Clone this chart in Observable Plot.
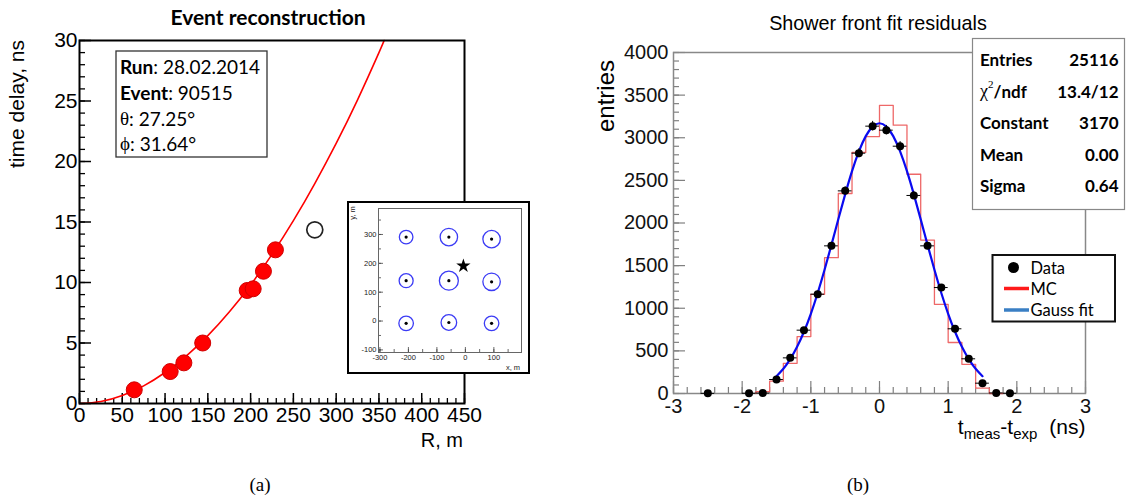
<!DOCTYPE html>
<html><head><meta charset="utf-8">
<script src="https://cdn.jsdelivr.net/npm/d3@7"></script>
<script src="https://cdn.jsdelivr.net/npm/@observablehq/plot@0.6"></script>
<style>
html,body{margin:0;padding:0;background:#fff;}
#stage{position:relative;width:1126px;height:499px;overflow:hidden;background:#fff;}
.pane{position:absolute;}
.pane svg{display:block;max-width:none;overflow:visible;}
</style></head><body><div id="stage"></div>
<script>
// ---------- (a) Event reconstruction ----------
const hitR = [64, 106, 122, 144, 196, 203, 215, 229];
const hitT = [1.13, 2.64, 3.36, 5.0, 9.34, 9.48, 10.93, 12.7];
const outlierR = [275];
const outlierT = [14.35];
// fitted front curve
const fitR = [0, 25, 50, 75, 100, 125, 150, 175, 200, 225, 250, 275, 300, 325, 350, 356];
const fitT = [0, 0.17, 0.67, 1.46, 2.56, 3.94, 5.61, 7.56, 9.8, 12.32, 15.11, 18.18, 21.5, 25.1, 29.0, 30];
const xTicksA = [0, 50, 100, 150, 200, 250, 300, 350, 400, 450];
const yTicksA = [0, 5, 10, 15, 20, 25, 30];

// inset: detector map
const detX = [-208, -58, 92, -208, -58, 92, -208, -58, 92];
const detY = [291, 291, 284, 140, 140, 136, -8, -5, -8];
const detSignal = [46, 76, 76, 49, 90, 76, 53, 61, 53];
const coreX = [-7];
const coreY = [191];
const xTicksB = [-300, -200, -100, 0, 100];
const yTicksB = [-100, 0, 100, 200, 300];

// ---------- (b) Shower front fit residuals ----------
const resX = [-2.5, -1.9, -1.7, -1.5, -1.3, -1.1, -0.9, -0.7, -0.5, -0.3, -0.1, 0.1, 0.3, 0.5, 0.7, 0.9, 1.1, 1.3, 1.5, 1.7, 1.9];
const resN = [2, 3, 5, 164, 418, 743, 1165, 1732, 2377, 2819, 3136, 3089, 2901, 2323, 1732, 1243, 759, 407, 121, 6, 3];
const mcX = [-1.7, -1.5, -1.3, -1.1, -0.9, -0.7, -0.5, -0.3, -0.1, 0.1, 0.3, 0.5, 0.7, 0.9, 1.1, 1.3, 1.5, 1.7];
const mcN = [22, 145, 354, 668, 1163, 1593, 2346, 2828, 3014, 3380, 3148, 2572, 1800, 1046, 598, 342, 62, 0];
const gaussX = [-1.5, -1.4, -1.3, -1.2, -1.1, -1.0, -0.9, -0.8, -0.7, -0.6, -0.5, -0.4, -0.3, -0.2, -0.1, 0, 0.1, 0.2, 0.3, 0.4, 0.5, 0.6, 0.7, 0.8, 0.9, 1.0, 1.1, 1.2, 1.3, 1.4, 1.5];
const gaussY = [203, 290, 403, 547, 724, 935, 1179, 1451, 1743, 2043, 2336, 2608, 2840, 3019, 3131, 3170, 3131, 3019, 2840, 2608, 2336, 2043, 1743, 1451, 1179, 935, 724, 547, 403, 290, 203];
const binHalf = 0.1;
const xTicksC = [-3, -2, -1, 0, 1, 2, 3];
const yTicksC = [0, 500, 1000, 1500, 2000, 2500, 3000, 3500, 4000];

const statLabels = ["Entries", "χ2/ndf", "Constant", "Mean", "Sigma"];
const statValues = ["25116", "13.4/12", "3170", "0.00", "0.64"];

// ---------- build tables ----------
const hits = hitR.map((r, i) => ({r, t: hitT[i]}));
const outl = outlierR.map((r, i) => ({r, t: outlierT[i]}));
const fit = fitR.map((r, i) => ({r, t: fitT[i]}));
const dets = detX.map((x, i) => ({x, y: detY[i], s: detSignal[i]}));
const core = coreX.map((x, i) => ({x, y: coreY[i]}));
const res = resX.map((x, i) => ({x, n: resN[i]}));
const mcOutline = [{x: mcX[0] - binHalf, n: 0}, ...mcX.map((c, i) => ({x: c - binHalf, n: mcN[i]})),
  {x: mcX[mcX.length - 1] + binHalf, n: 0}];
const gauss = gaussX.map((x, i) => ({x, y: gaussY[i]}));

const stage = document.getElementById("stage");
function pane(left, top, node, extra) {
  const d = document.createElement("div");
  d.className = "pane";
  d.style.left = left + "px"; d.style.top = top + "px";
  if (extra) Object.assign(d.style, extra);
  d.appendChild(node);
  stage.appendChild(d);
  return d;
}
const sans = "'Liberation Sans', Arial, sans-serif";

// ---------- Plot A ----------
const AW = 490, AH = 440, aL = 79, aR = 26, aT = 40, aB = 37;
const aFW = AW - aL - aR, aFH = AH - aT - aB;
const plotA = Plot.plot({
  width: AW, height: AH, marginLeft: aL, marginRight: aR, marginTop: aT, marginBottom: aB,
  x: {domain: [0, 450]}, y: {domain: [0, 30]},
  style: {fontFamily: sans, color: "#000", background: "transparent", overflow: "visible"},
  marks: [
    Plot.tickX(d3.range(0, 451, 10), {x: d => d, insetTop: aFH - 5, stroke: "#000", strokeWidth: 1.3}),
    Plot.tickX(xTicksA, {x: d => d, insetTop: aFH - 10, stroke: "#000", strokeWidth: 1.5}),
    Plot.tickY(d3.range(0, 31, 1), {y: d => d, insetRight: aFW - 6, stroke: "#000", strokeWidth: 1.3}),
    Plot.tickY(yTicksA, {y: d => d, insetRight: aFW - 12, stroke: "#000", strokeWidth: 1.5}),
    Plot.line(fit, {x: "r", y: "t", stroke: "#ff0000", strokeWidth: 1.6, curve: "natural"}),
    Plot.dot(hits, {x: "r", y: "t", r: 8, fill: "#ff0000", stroke: "#d00000", strokeWidth: 1}),
    Plot.dot(outl, {x: "r", y: "t", r: 8, fill: "none", stroke: "#222", strokeWidth: 1.7}),
    Plot.frame({stroke: "#000", strokeWidth: 2}),
    Plot.axisX(xTicksA, {tickSize: 0, tickPadding: 4, fontSize: 21, label: null, tickFormat: d => String(d)}),
    Plot.axisY(yTicksA, {tickSize: 0, tickPadding: 2, fontSize: 21, label: null, tickFormat: d => String(d)})
  ]
});
pane(0, 0, plotA);

// ---------- Plot B (inset) ----------
const BW = 179, BH = 169, bL = 29, bR = 7, bT = 5, bB = 20;
const bFW = BW - bL - bR, bFH = BH - bT - bB;
const plotB = Plot.plot({
  width: BW, height: BH, marginLeft: bL, marginRight: bR, marginTop: bT, marginBottom: bB,
  x: {domain: [-305, 197]}, y: {domain: [-109, 390]},
  r: {type: "sqrt", domain: [0, 100], range: [0, 10]},
  style: {fontFamily: sans, color: "#222", background: "#fff", overflow: "visible"},
  marks: [
    Plot.tickX(d3.range(-300, 197, 50), {x: d => d, insetTop: bFH - 3, stroke: "#444", strokeWidth: 0.8}),
    Plot.tickX(xTicksB, {x: d => d, insetTop: bFH - 5, stroke: "#444", strokeWidth: 0.8}),
    Plot.tickY(d3.range(-100, 390, 50), {y: d => d, insetRight: bFW - 3, stroke: "#444", strokeWidth: 0.8}),
    Plot.tickY(yTicksB, {y: d => d, insetRight: bFW - 5, stroke: "#444", strokeWidth: 0.8}),
    Plot.frame({stroke: "#666", strokeWidth: 1}),
    Plot.dot(dets, {x: "x", y: "y", r: "s", fill: "none", stroke: "#3b3bf5", strokeWidth: 1.3}),
    Plot.dot(dets, {x: "x", y: "y", r: 1.6, fill: "#000"}),
    Plot.dot(core, {x: "x", y: "y", symbol: "star", r: 4.5, fill: "#000"}),
    Plot.axisX(xTicksB, {tickSize: 0, tickPadding: 2, fontSize: 7.5, label: null, tickFormat: d => String(d)}),
    Plot.axisY(yTicksB, {tickSize: 0, tickPadding: 2, fontSize: 7.5, label: null, tickFormat: d => String(d)})
  ]
});
pane(347, 201, plotB, {border: "2px solid #000", background: "#fff"});

// ---------- Plot C ----------
const CW = 536, CH = 460, cL = 83, cR = 41, cT = 52, cB = 67;
const cFW = CW - cL - cR, cFH = CH - cT - cB;
const plotC = Plot.plot({
  width: CW, height: CH, marginLeft: cL, marginRight: cR, marginTop: cT, marginBottom: cB,
  x: {domain: [-3, 3]}, y: {domain: [0, 4000]},
  style: {fontFamily: sans, color: "#111", background: "transparent", overflow: "visible"},
  marks: [
    Plot.tickX(d3.range(-15, 16).map(k => k / 5), {x: d => d, insetTop: cFH - 6, stroke: "#808080", strokeWidth: 1.2}),
    Plot.tickX(xTicksC, {x: d => d, insetTop: cFH - 12, stroke: "#808080", strokeWidth: 1.2}),
    Plot.tickY(d3.range(0, 4001, 100), {y: d => d, insetRight: cFW - 6, stroke: "#808080", strokeWidth: 1.2}),
    Plot.tickY(yTicksC, {y: d => d, insetRight: cFW - 12, stroke: "#808080", strokeWidth: 1.2}),
    Plot.frame({stroke: "#888", strokeWidth: 1.5}),
    Plot.line(mcOutline, {x: "x", y: "n", curve: "step-after", stroke: "#ee6868", strokeWidth: 1.3}),
    Plot.line(gauss, {x: "x", y: "y", curve: "natural", stroke: "#0a0af0", strokeWidth: 2.2}),
    Plot.ruleY(res, {y: "n", x1: d => d.x - binHalf, x2: d => d.x + binHalf, stroke: "#000", strokeWidth: 1}),
    Plot.ruleX(res, {x: "x", y1: d => d.n - Math.sqrt(d.n), y2: d => d.n + Math.sqrt(d.n), stroke: "#000", strokeWidth: 1}),
    Plot.dot(res, {x: "x", y: "n", r: 4, fill: "#000"}),
    Plot.axisX(xTicksC, {tickSize: 0, tickPadding: 5, fontSize: 20, label: null, tickFormat: d => String(d)}),
    Plot.axisY(yTicksC, {tickSize: 0, tickPadding: 5, fontSize: 20, label: null, tickFormat: d => String(d)})
  ]
});
pane(590, 0, plotC);

// ---------- overlay: titles, labels, boxes ----------
const ov = d3.select(stage).append("svg")
  .attr("width", 1126).attr("height", 499)
  .style("position", "absolute").style("left", "0px").style("top", "0px");
const lato = "Lato, 'Open Sans', sans-serif";
const serif = "'Liberation Serif', 'DejaVu Serif', serif";
function txt(x, y, s, o = {}) {
  const t = ov.append("text").attr("x", x).attr("y", y)
    .attr("font-family", o.ff || sans).attr("font-size", o.fs || 20)
    .attr("font-weight", o.fw || "normal").attr("fill", o.fill || "#000")
    .attr("text-anchor", o.anchor || "start").attr("dominant-baseline", o.base || "central");
  if (o.rot) t.attr("transform", `rotate(${o.rot},${x},${y})`);
  if (s != null) t.text(s);
  return t;
}

// (a)
txt(268, 16, "Event reconstruction", {ff: lato, fs: 21, fw: "bold", anchor: "middle"});
txt(16, 40, "time delay, ns", {fs: 21, anchor: "end", rot: -90});
txt(463, 440, "R, m", {fs: 20, anchor: "end"});
ov.append("rect").attr("x", 116).attr("y", 51).attr("width", 151).attr("height", 106)
  .attr("fill", "#fff").attr("stroke", "#333").attr("stroke-width", 1.3);
{
  let t = txt(120, 66, null, {ff: lato, fs: 19});
  t.append("tspan").attr("font-weight", "bold").text("Run");
  t.append("tspan").text(": 28.02.2014");
  t = txt(120, 92, null, {ff: lato, fs: 19});
  t.append("tspan").attr("font-weight", "bold").text("Event");
  t.append("tspan").text(": 90515");
  t = txt(120, 117.5, null, {ff: lato, fs: 19});
  t.append("tspan").attr("font-family", serif).text("θ");
  t.append("tspan").text(": 27.25°");
  t = txt(120, 143, null, {ff: lato, fs: 19});
  t.append("tspan").attr("font-family", serif).text("ϕ");
  t.append("tspan").text(": 31.64°");
}
txt(352, 213, "y, m", {fs: 7.5, anchor: "middle", rot: -90, fill: "#222"});
txt(513, 367, "x, m", {fs: 7.5, anchor: "middle", fill: "#222"});

// (b)
txt(878, 23, "Shower front fit residuals", {fs: 19.8, anchor: "middle"});
txt(605, 60, "entries", {fs: 24, anchor: "end", rot: -90});
{
  const t = txt(1085.5, 434, null, {fs: 21, anchor: "end", base: "auto"});
  t.append("tspan").text("t");
  t.append("tspan").attr("font-size", 15).attr("dy", 5).text("meas");
  t.append("tspan").attr("dy", -5).text("-t");
  t.append("tspan").attr("font-size", 15).attr("dy", 5).text("exp");
  t.append("tspan").attr("dy", -5).attr("dx", 12).text("(ns)");
}
ov.append("rect").attr("x", 972.5).attr("y", 38.5).attr("width", 152).attr("height", 171)
  .attr("fill", "#fff").attr("stroke", "#888").attr("stroke-width", 1.2);
const rowY = [59.5, 91, 122.5, 154, 185.5];
statLabels.forEach((l, i) => {
  const t = txt(980, rowY[i], null, {ff: lato, fs: 17, fw: "bold"});
  if (l.startsWith("χ")) {
    t.append("tspan").attr("font-family", serif).attr("font-weight", "normal").attr("font-size", 18).text("χ");
    t.append("tspan").attr("font-family", serif).attr("font-weight", "normal").attr("font-size", 11).attr("dy", -7).text("2");
    t.append("tspan").attr("dy", 7).text("/ndf");
  } else t.text(l);
  txt(1118.5, rowY[i], statValues[i], {ff: lato, fs: 17, fw: "bold", anchor: "end"});
});
// legend
ov.append("rect").attr("x", 992.5).attr("y", 255).attr("width", 122.5).attr("height", 66.5)
  .attr("fill", "#fff").attr("stroke", "#111").attr("stroke-width", 2);
ov.append("circle").attr("cx", 1013.5).attr("cy", 267.5).attr("r", 5.5).attr("fill", "#000");
ov.append("line").attr("x1", 1004).attr("x2", 1029).attr("y1", 288.5).attr("y2", 288.5).attr("stroke", "#ff1a1a").attr("stroke-width", 3.5);
ov.append("line").attr("x1", 1004).attr("x2", 1029).attr("y1", 310).attr("y2", 310).attr("stroke", "#3a7fc4").attr("stroke-width", 3.5);
txt(1030.5, 267.5, "Data", {ff: lato, fs: 16.5});
txt(1030.5, 288.5, "MC", {ff: lato, fs: 16.5});
txt(1030.5, 310, "Gauss fit", {ff: lato, fs: 16.5});

// captions
txt(260, 484, "(a)", {ff: serif, fs: 19, anchor: "middle"});
txt(858, 484, "(b)", {ff: serif, fs: 19, anchor: "middle"});
</script></body></html>
